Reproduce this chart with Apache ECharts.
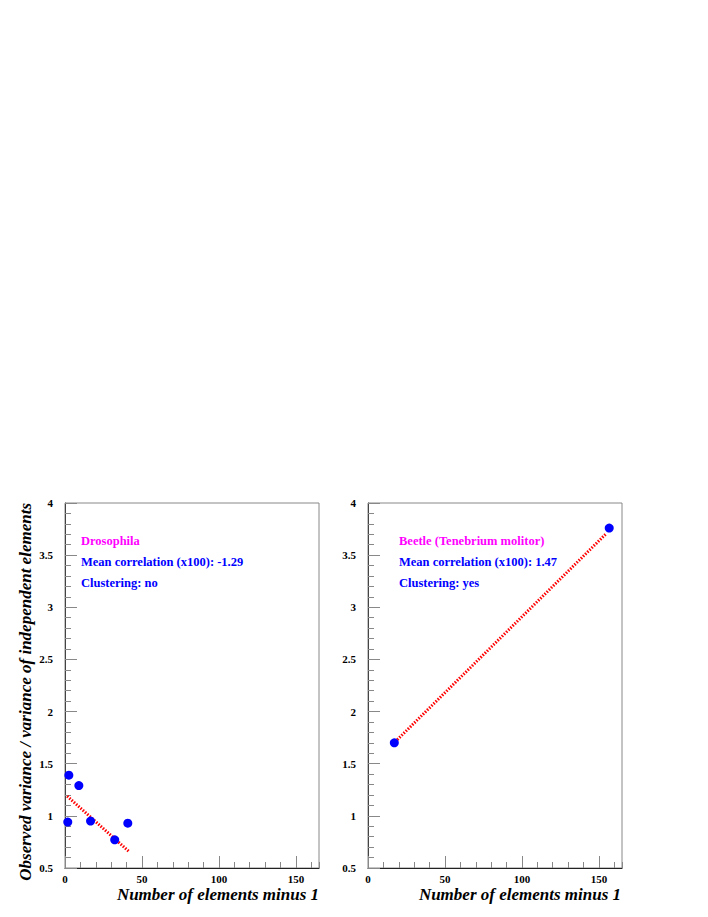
<!DOCTYPE html>
<html>
<head>
<meta charset="utf-8">
<script src="https://cdn.jsdelivr.net/npm/echarts@6/dist/echarts.min.js"></script>
<style>
  html, body { margin: 0; padding: 0; background: #fff; }
  #chart { width: 708px; height: 917px; }
</style>
</head>
<body>
<div id="chart"></div>
<script>
// data
const droX = [1.8, 2.5, 9.0, 16.6, 32.3, 40.8];
const droY = [0.94, 1.39, 1.29, 0.95, 0.77, 0.93];
const droFitX = [1.4, 41.4];
const droFitY = [1.19, 0.66];

const beetleX = [17.1, 156.7];
const beetleY = [1.70, 3.76];
const beetleFitX = [19, 155];
const beetleFitY = [1.73, 3.71];

const droNotes = ['Drosophila', 'Mean correlation (x100): -1.29', 'Clustering: no'];
const beetleNotes = ['Beetle (Tenebrium molitor)', 'Mean correlation (x100): 1.47', 'Clustering: yes'];
const noteColors = ['#ff00ff', '#0000ff', '#0000ff'];

const xTitle = 'Number of elements minus 1';
const yTitle = 'Observed variance / variance of independent elements';

const FONT = '"Liberation Serif", "DejaVu Serif", serif';

function pairs(xs, ys) {
  return xs.map((x, i) => [x, ys[i]]);
}

function majorX(grid) {
  return {
    type: 'value', gridIndex: grid, position: 'bottom', min: 0, max: 165, interval: 50,
    axisLine: { show: true, lineStyle: { color: '#222', width: 1.2 } },
    axisTick: { show: true, inside: true, length: 12, lineStyle: { color: '#888' } },
    axisLabel: { show: true, showMaxLabel: false, margin: 6, color: '#000', lineHeight: 10,
      fontFamily: FONT, fontWeight: 'bold', fontSize: 11 },
    splitLine: { show: false }
  };
}
function minorX(grid) {
  return {
    type: 'value', gridIndex: grid, position: 'bottom', min: 0, max: 165, interval: 10,
    axisLine: { show: false },
    axisTick: { show: true, inside: true, length: 6, lineStyle: { color: '#888' } },
    axisLabel: { show: false },
    splitLine: { show: false }
  };
}
function yAx(grid) {
  return {
    type: 'value', gridIndex: grid, position: 'left', min: 0.5, max: 4, interval: 0.5,
    axisLine: { show: true, lineStyle: { color: '#444', width: 1 } },
    axisTick: { show: true, inside: true, length: 12, lineStyle: { color: '#888' } },
    minorTick: { show: true, splitNumber: 5, length: 6, lineStyle: { color: '#888' } },
    axisLabel: { show: true, margin: 12, color: '#000',
      fontFamily: FONT, fontWeight: 'bold', fontSize: 11 },
    splitLine: { show: false }
  };
}

function notes(list, left) {
  return list.map((t, i) => ({
    type: 'text', left: left, top: 534 + i * 21,
    style: { text: t, fill: noteColors[i], font: 'bold 12.5px ' + FONT }
  }));
}

function xTitleText(right) {
  return {
    type: 'text', x: right, y: 894,
    style: { text: xTitle, fill: '#000', align: 'right', verticalAlign: 'middle',
      lineHeight: 13, font: 'italic bold 17px ' + FONT }
  };
}

const chart = echarts.init(document.getElementById('chart'), null, { renderer: 'svg' });

chart.setOption({
  animation: false,
  backgroundColor: '#fff',
  grid: [
    { left: 65, top: 503, width: 254, height: 365, show: true, borderColor: '#888', borderWidth: 1 },
    { left: 368, top: 503, width: 254, height: 365, show: true, borderColor: '#888', borderWidth: 1 }
  ],
  xAxis: [majorX(0), minorX(0), majorX(1), minorX(1)],
  yAxis: [yAx(0), yAx(1)],
  series: [
    {
      type: 'line', xAxisIndex: 0, yAxisIndex: 0, z: 2,
      data: pairs(droFitX, droFitY), symbol: 'none',
      lineStyle: { color: '#ff0000', width: 3, type: [1.5, 1.5] }
    },
    {
      type: 'scatter', xAxisIndex: 0, yAxisIndex: 0, z: 3,
      data: pairs(droX, droY), symbolSize: 9,
      itemStyle: { color: '#0000ff', opacity: 1 }
    },
    {
      type: 'line', xAxisIndex: 2, yAxisIndex: 1, z: 2,
      data: pairs(beetleFitX, beetleFitY), symbol: 'none',
      lineStyle: { color: '#ff0000', width: 3, type: [1.5, 1.5] }
    },
    {
      type: 'scatter', xAxisIndex: 2, yAxisIndex: 1, z: 3,
      data: pairs(beetleX, beetleY), symbolSize: 9,
      itemStyle: { color: '#0000ff', opacity: 1 }
    }
  ],
  graphic: [
    ...notes(droNotes, 81),
    ...notes(beetleNotes, 399),
    {
      type: 'text', x: 25, y: 503, rotation: Math.PI / 2,
      style: { text: yTitle, fill: '#000', align: 'right', verticalAlign: 'middle',
        font: 'italic bold 17px ' + FONT }
    },
    xTitleText(319),
    xTitleText(621)
  ]
});
</script>
</body>
</html>
